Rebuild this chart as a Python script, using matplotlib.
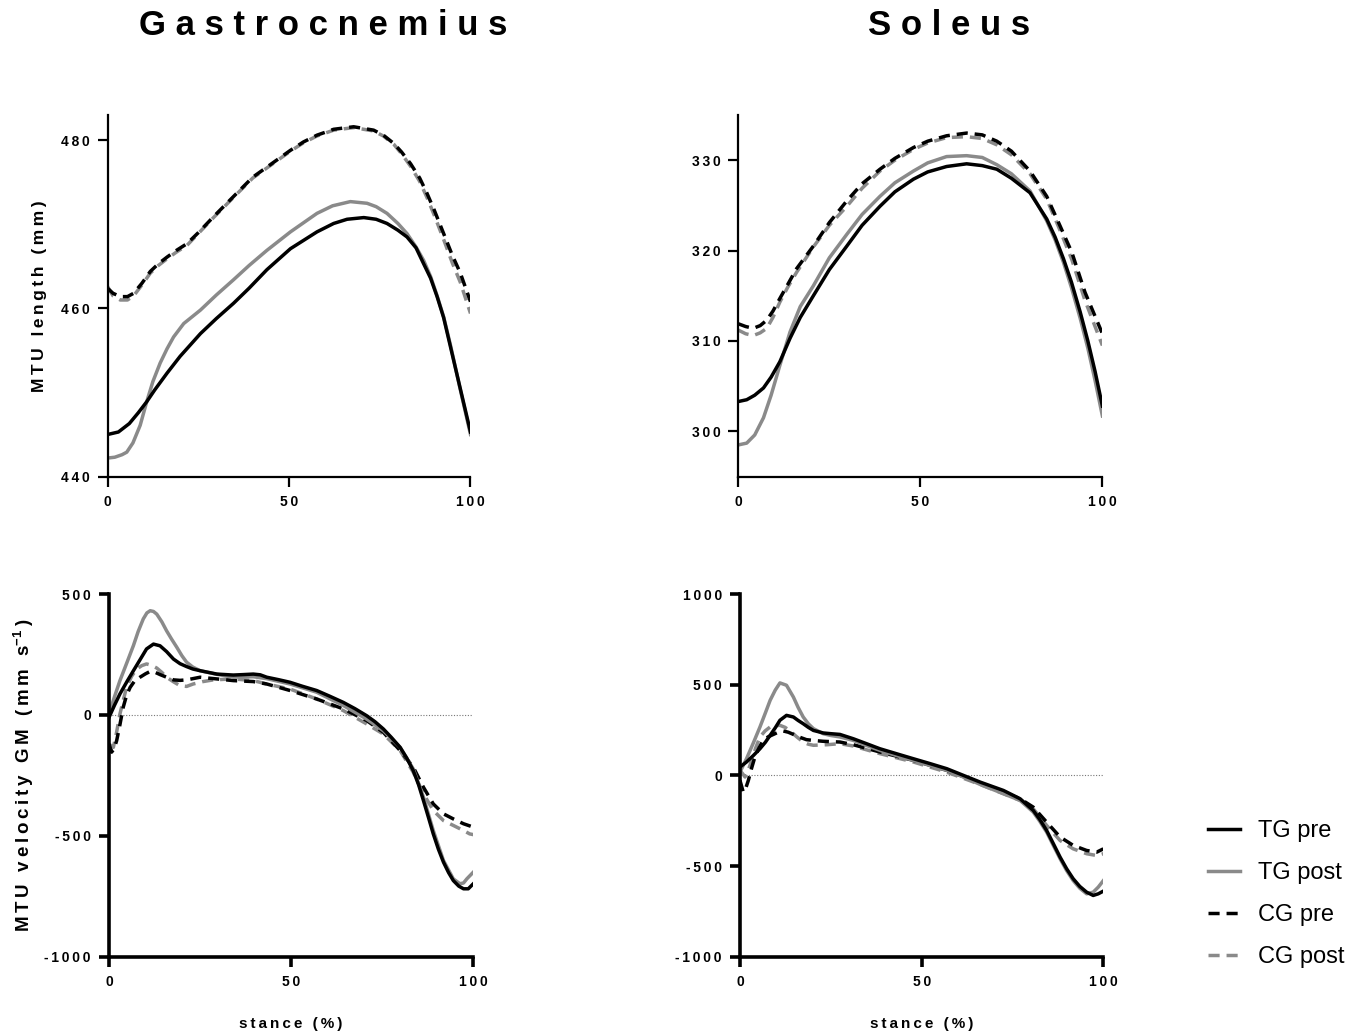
import matplotlib
matplotlib.use("Agg")
import matplotlib.pyplot as plt
from matplotlib.ticker import FuncFormatter, FixedLocator

plt.rcParams['font.family'] = ['Liberation Sans', 'DejaVu Sans']
plt.rcParams['mathtext.fontset'] = 'custom'
plt.rcParams['mathtext.rm'] = 'Liberation Sans'
plt.rcParams['mathtext.bf'] = 'Liberation Sans:bold'

TS = '\u2009'  # thin space used for the letter-spaced look


def spaced(s):
    return TS.join(s)


# ---- Gastrocnemius MTU length (mm) ----
gl_tgpre_x = [0, 3, 6, 8.5, 10.8, 13, 16.4, 20, 25.6, 30, 34.7, 39, 43.9, 50.4, 57.7, 62.3, 66, 70.6, 74, 77,
              80, 82.5, 85, 87.1, 89, 90.8, 92.6, 94.5, 97, 100]
gl_tgpre_y = [445.0, 445.3, 446.3, 447.6, 448.9, 450.3, 452.3, 454.3, 457.0, 458.8, 460.6, 462.4, 464.6, 467.1,
              469.1, 470.1, 470.6, 470.8, 470.6, 470.1, 469.3, 468.5, 467.2, 465.3, 463.6, 461.4, 458.9, 455.4,
              450.8, 445.3]
gl_tgpost_x = [0, 2, 4, 5.3, 7, 9, 10.8, 12.5, 14.5, 16.4, 18.2, 21, 25.6, 30, 34.7, 39, 43.9, 50.4, 57.7, 62,
               66.9, 71.5, 74, 77, 80, 82.5, 85, 87.1, 89, 90.8, 92.6, 94.5, 97, 100]
gl_tgpost_y = [442.2, 442.3, 442.6, 442.9, 444.0, 446.1, 448.9, 451.3, 453.5, 455.2, 456.6, 458.2, 459.8, 461.6,
               463.4, 465.1, 466.9, 469.1, 471.3, 472.2, 472.7, 472.5, 472.1, 471.3, 470.1, 468.9, 467.3, 465.7,
               463.8, 461.5, 459.0, 455.6, 450.7, 445.0]
gl_cg_x = [0, 1.5, 3.5, 5.5, 7.2, 9.5, 11.8, 14, 16.4, 19, 21.9, 25, 29.2, 34.7, 40, 43.9, 50.4, 54, 57.7, 62.3,
           67.8, 73.3, 76, 78.9, 81, 83.5, 86, 88, 90, 92.6, 95, 97.2, 100]
gl_cgpre_y = [462.4, 461.8, 461.4, 461.4, 461.8, 463.0, 464.4, 465.3, 466.1, 466.9, 467.7, 469.0, 470.9, 473.3,
              475.6, 476.8, 478.8, 479.8, 480.6, 481.3, 481.6, 481.2, 480.6, 479.6, 478.6, 477.2, 475.5, 473.7,
              471.7, 468.9, 466.3, 464.2, 460.8]
gl_cgpost_y = [462.6, 461.5, 461.0, 461.0, 461.5, 462.8, 464.2, 465.1, 465.9, 466.7, 467.5, 468.9, 470.8, 473.2,
               475.5, 476.7, 478.7, 479.7, 480.5, 481.2, 481.5, 481.1, 480.5, 479.5, 478.4, 476.9, 475.1, 473.2,
               471.1, 468.2, 465.4, 463.1, 459.4]

# ---- Soleus MTU length (mm) ----
sl_tg_x = [0, 2.3, 4.5, 6.9, 9, 11.4, 14.2, 17, 20.6, 25, 29.8, 34, 38.9, 43, 48.1, 52, 57.2, 62.7, 67, 71, 75,
           80.1, 84.7, 87, 89.3, 91.5, 93.9, 96, 98, 100]
sl_tgpre_y = [303.3, 303.5, 304.0, 304.8, 306.0, 307.7, 310.3, 312.6, 315.0, 317.9, 320.5, 322.8, 324.9, 326.5,
              327.9, 328.7, 329.3, 329.6, 329.4, 329.0, 328.0, 326.4, 323.5, 321.5, 319.1, 316.5, 313.2, 310.0,
              306.6, 302.8]
sl_tgpost_y = [298.5, 298.7, 299.6, 301.5, 304.0, 307.3, 311.0, 313.8, 316.1, 319.2, 321.8, 324.0, 326.0, 327.5,
               328.8, 329.7, 330.4, 330.5, 330.3, 329.5, 328.5, 326.6, 323.3, 321.2, 318.7, 315.9, 312.5, 309.2,
               305.6, 301.7]
sl_cg_x = [0, 2, 4.1, 6, 7.8, 9.5, 11.4, 13.5, 16, 20.6, 25, 29.8, 34, 38.9, 43, 48.1, 52, 57.2, 62.7, 67, 71, 75,
           80.1, 84.7, 88.4, 91.6, 95.2, 100]
sl_cgpre_y = [311.9, 311.6, 311.4, 311.7, 312.3, 313.3, 314.7, 316.2, 318.0, 320.5, 323.1, 325.5, 327.4, 329.0,
              330.2, 331.4, 332.1, 332.7, 333.0, 332.8, 332.1, 331.0, 328.8, 326.0, 322.7, 319.8, 315.4, 310.8]
sl_cgpost_y = [311.2, 310.8, 310.6, 310.9, 311.4, 312.6, 314.3, 315.9, 317.6, 320.4, 322.8, 324.9, 326.9, 328.8,
               330.0, 331.2, 331.9, 332.5, 332.6, 332.4, 331.7, 330.6, 328.5, 325.7, 322.2, 319.0, 314.5, 309.5]

# ---- Gastrocnemius MTU velocity (mm/s) ----
gv_tgpre_x = [0, 1.5, 3, 5, 6.7, 8.5, 10.3, 12.2, 14, 15.8, 17.7, 19.5, 21.3, 23, 25, 29.6, 34.1, 37, 39.6, 41.5,
              43.3, 46.5, 49.7, 53, 57, 60.5, 64.3, 67.5, 70.7, 73, 75.3, 77.5, 79.9, 81.7, 83.5, 85, 86.3, 87.7,
              89, 90.4, 91.8, 93.2, 94.5, 96, 97.3, 98.6, 100]
gv_tgpre_y = [-10, 40, 87, 140, 183, 228, 273, 293, 286, 262, 231, 212, 200, 190, 183, 169, 165, 167, 169, 166,
              156, 146, 135, 119, 101, 78, 52, 26, -3, -28, -58, -93, -134, -178, -230, -290, -354, -425, -492,
              -555, -609, -652, -685, -708, -719, -719, -698]
gv_tgpost_x = [0, 1.5, 3, 5, 6.7, 8, 9.4, 10.4, 11.3, 12.2, 13.1, 14.5, 15.8, 17.2, 18.6, 20, 21.3, 23, 25, 29.6,
               34.1, 39.6, 43.3, 49.7, 57, 64.3, 70.7, 75.3, 79.9, 83.5, 86.3, 89, 91.8, 94.5, 96.3, 97.3, 98.2, 100]
gv_tgpost_y = [4, 75, 142, 220, 287, 345, 397, 422, 431, 428, 417, 385, 348, 313, 280, 245, 218, 198, 183, 168,
               156, 158, 150, 128, 94, 39, -17, -65, -134, -223, -340, -478, -602, -678, -698, -695, -678, -650]
gv_cgpre_x = [0, 0.7, 1.4, 2.1, 3, 3.9, 4.8, 5.8, 7, 8.5, 10, 11.3, 12.7, 14, 15.8, 17.7, 19.5, 21.3, 23, 25, 27.5,
              29.6, 34.1, 39.6, 43.3, 49.7, 57, 64.3, 70.7, 75.3, 79.9, 83.5, 86.3, 89, 91.8, 94.5, 97.3, 100]
gv_cgpre_y = [-120, -154, -140, -106, -40, 32, 80, 114, 140, 156, 170, 180, 176, 167, 156, 145, 143, 145, 150, 156,
              152, 149, 142, 138, 128, 101, 66, 25, -23, -72, -147, -216, -299, -368, -409, -430, -450, -464]
gv_cgpost_x = [0, 0.6, 1.2, 2.1, 3, 3.9, 4.8, 6.2, 7.6, 9, 10.3, 11.7, 13.1, 14.5, 15.8, 17.7, 19.5, 21.3, 23.1,
               25.8, 28.6, 34.1, 39.6, 43.3, 49.7, 57, 64.3, 70.7, 75.3, 79.9, 83.5, 86.3, 89, 91.8, 94.5, 97.3, 99, 100]
gv_cgpost_y = [-120, -128, -134, -70, 4, 60, 114, 160, 190, 204, 211, 205, 194, 176, 156, 137, 121, 118, 128, 138,
               145, 149, 142, 128, 107, 66, 18, -37, -79, -147, -237, -326, -395, -437, -457, -478, -492, -495]

# ---- Soleus MTU velocity (mm/s) ----
sv_tg_x = [0, 1.8, 3.7, 5.5, 7, 8.3, 9.7, 11, 12.8, 14.7, 16, 17.4, 18.8, 20.2, 22.9, 25, 27.5, 31.2, 34.8, 38.5,
           43, 47.7, 52.3, 56.9, 61.5, 66.1, 72.5, 77.1, 80.7, 82.5, 84.4, 86.2, 88.1, 89.9, 91.7, 93.5, 95.4, 97.2,
           98.6, 100]
sv_tgpre_y = [46, 74, 110, 147, 183, 221, 262, 304, 331, 322, 303, 285, 265, 248, 234, 230, 226, 202, 175, 147,
              120, 92, 65, 37, 0, -37, -83, -129, -193, -243, -304, -375, -451, -515, -570, -612, -644, -662, -653,
              -638]
sv_tgpost_y = [18, 92, 180, 267, 345, 414, 470, 510, 497, 432, 375, 322, 285, 258, 230, 220, 212, 193, 165, 138,
               110, 83, 55, 28, -9, -50, -101, -138, -202, -253, -313, -385, -460, -525, -580, -622, -653, -644, -616,
               -580]
sv_cgpre_x = [0, 0.9, 1.6, 2.3, 3.2, 4.1, 5.2, 6.4, 7.8, 9.2, 10.5, 11.9, 13.3, 14.7, 16.5, 18.3, 20.6, 22.9, 27.5,
              31.2, 38.5, 47.7, 56.9, 66.1, 72.5, 77.1, 80.7, 84.4, 88.1, 91.7, 95.4, 98.2, 100]
sv_cgpre_y = [-28, -92, -70, -28, 40, 101, 150, 193, 213, 226, 238, 245, 238, 226, 210, 197, 192, 188, 184, 169,
              129, 83, 28, -42, -92, -129, -175, -258, -340, -386, -414, -423, -405]
sv_cgpost_x = [0, 0.7, 1.4, 2.3, 3.2, 4.3, 5.5, 6.9, 8.3, 9.7, 11, 12.4, 13.8, 15.6, 17.4, 18.8, 20.2, 23.9, 27.5,
               31.2, 38.5, 47.7, 56.9, 66.1, 72.5, 77.1, 80.7, 84.4, 88.1, 91.7, 95.4, 98.2, 100]
sv_cgpost_y = [28, 10, -9, 30, 83, 150, 212, 245, 267, 274, 276, 265, 245, 213, 184, 172, 166, 169, 175, 162, 120,
               74, 18, -50, -101, -138, -184, -276, -359, -405, -432, -442, -432]

labels = ['TG pre', 'TG post', 'CG pre', 'CG post']
grey = '#8a8a8a'
lw = 2.5
dash = (3.2, 2.0)

fig = plt.figure(figsize=(13.61, 10.36), dpi=100)
ax_gl = fig.add_axes([0.079, 0.540, 0.2667, 0.349])
ax_sl = fig.add_axes([0.5425, 0.540, 0.2675, 0.349])
ax_gv = fig.add_axes([0.0801, 0.0765, 0.2677, 0.3501])
ax_sv = fig.add_axes([0.5437, 0.0765, 0.267, 0.3501])

panels = [
    (ax_gl, (gl_tgpre_x, gl_tgpre_y), (gl_tgpost_x, gl_tgpost_y), (gl_cg_x, gl_cgpre_y), (gl_cg_x, gl_cgpost_y),
     (440, 483), [440, 460, 480], 1.6),
    (ax_sl, (sl_tg_x, sl_tgpre_y), (sl_tg_x, sl_tgpost_y), (sl_cg_x, sl_cgpre_y), (sl_cg_x, sl_cgpost_y),
     (295, 335), [300, 310, 320, 330], 1.6),
    (ax_gv, (gv_tgpre_x, gv_tgpre_y), (gv_tgpost_x, gv_tgpost_y), (gv_cgpre_x, gv_cgpre_y),
     (gv_cgpost_x, gv_cgpost_y), (-1000, 500), [-1000, -500, 0, 500], 2.6),
    (ax_sv, (sv_tg_x, sv_tgpre_y), (sv_tg_x, sv_tgpost_y), (sv_cgpre_x, sv_cgpre_y), (sv_cgpost_x, sv_cgpost_y),
     (-1000, 1000), [-1000, -500, 0, 500, 1000], 2.6),
]

fmt = FuncFormatter(lambda v, p: spaced('%d' % v))

for ax, tgpre, tgpost, cgpre, cgpost, ylim, yt, spw in panels:
    if ylim[0] < 0:
        ax.plot([0, 100], [0, 0], color='#777777', lw=0.8, ls=(0, (1, 1.5)), zorder=1)
    ax.plot(cgpost[0], cgpost[1], color=grey, lw=lw, dashes=dash, label=labels[3])
    ax.plot(cgpre[0], cgpre[1], color='black', lw=lw, dashes=dash, label=labels[2])
    ax.plot(tgpost[0], tgpost[1], color=grey, lw=lw, label=labels[1])
    ax.plot(tgpre[0], tgpre[1], color='black', lw=lw, label=labels[0])
    ax.set_xlim(0, 100)
    ax.set_ylim(*ylim)
    ax.xaxis.set_major_locator(FixedLocator([0, 50, 100]))
    ax.yaxis.set_major_locator(FixedLocator(yt))
    ax.xaxis.set_major_formatter(fmt)
    ax.yaxis.set_major_formatter(fmt)
    for s in ['top', 'right']:
        ax.spines[s].set_visible(False)
    for s in ['left', 'bottom']:
        ax.spines[s].set_linewidth(spw)
    ax.tick_params(direction='out', length=7, width=spw, labelsize=10, pad=6)
    for t in ax.get_xticklabels() + ax.get_yticklabels():
        t.set_fontweight('bold')

ax_gl.set_ylabel(spaced('MTU length (mm)'), fontsize=12.5, fontweight='bold', labelpad=10)
ax_gv.set_ylabel(spaced('MTU velocity GM (mm s') + r'$^{\mathbf{-1}}$' + TS + ')',
                 fontsize=13.5, fontweight='bold', labelpad=6)
ax_gv.set_xlabel(spaced('stance (%)'), fontsize=11, fontweight='bold', labelpad=20)
ax_sv.set_xlabel(spaced('stance (%)'), fontsize=11, fontweight='bold', labelpad=20)

title_font = ['Liberation Sans Narrow', 'Liberation Sans', 'DejaVu Sans']
fig.text(0.2375, 0.975, ' '.join('Gastrocnemius'), fontsize=25, fontweight='bold',
         family=title_font, ha='center', va='center')
fig.text(0.6975, 0.975, ' '.join('Soleus'), fontsize=25, fontweight='bold',
         family=title_font, ha='center', va='center')

h, l = ax_sv.get_legend_handles_labels()
order = [3, 2, 1, 0]
fig.legend([h[i] for i in order], [l[i] for i in order], loc='upper left',
           bbox_to_anchor=(0.879, 0.22), frameon=False, fontsize=17,
           handlelength=1.35, handletextpad=0.75, labelspacing=0.85, borderpad=0)

fig.savefig('out.png', dpi=100)
